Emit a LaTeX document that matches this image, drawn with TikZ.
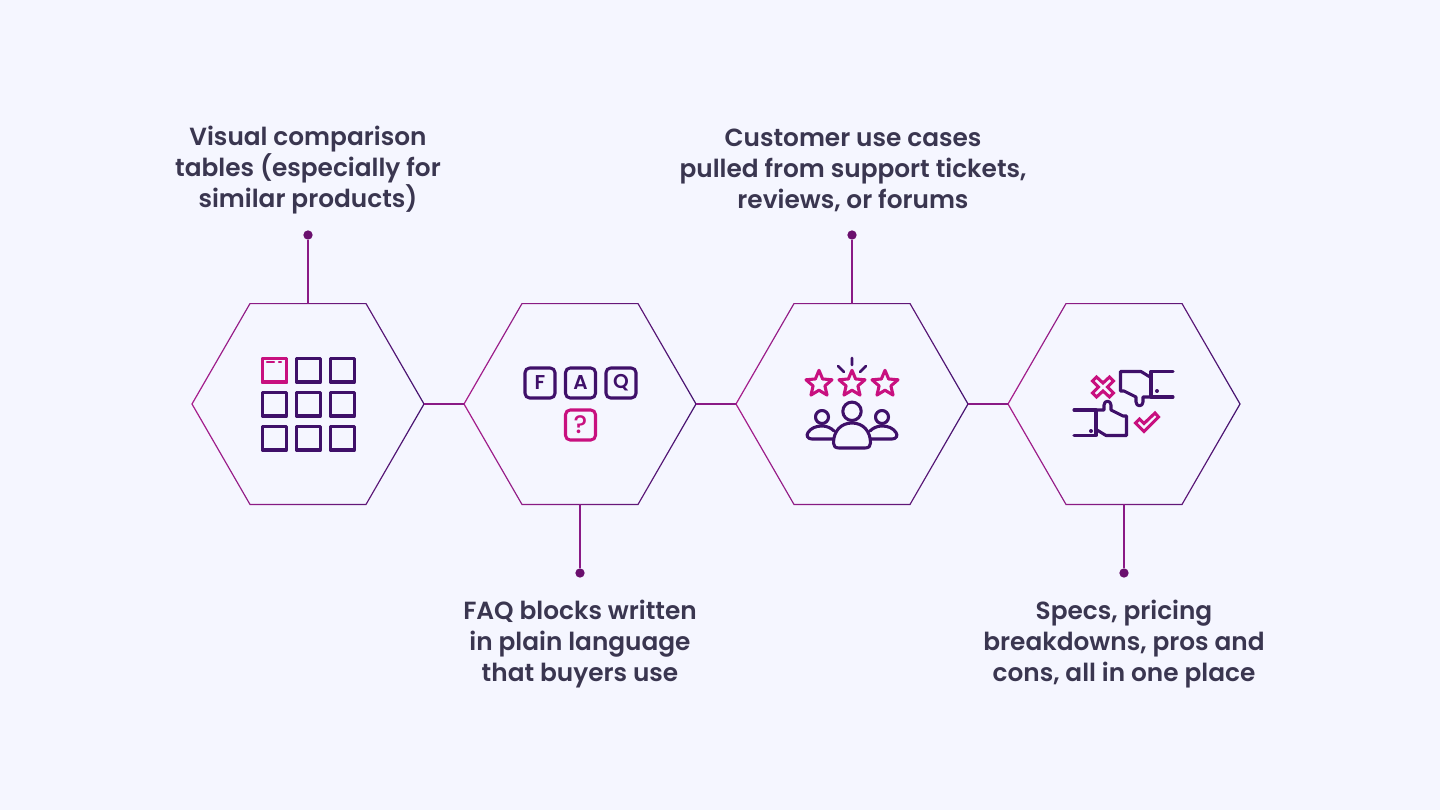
\documentclass[tikz,border=0pt]{standalone}
\usepackage{fontspec}
\newfontfamily\popfont{Poppins SemiBold}
\newfontfamily\popmed{Poppins Medium}
\usetikzlibrary{shapes.geometric}
\definecolor{pagebg}{HTML}{F5F6FF}
\definecolor{inkdark}{HTML}{3A3650}
\definecolor{plum}{HTML}{3F1069}
\definecolor{rose}{HTML}{C8107F}
\definecolor{hexleft}{HTML}{A81E8C}
\definecolor{hexright}{HTML}{451470}
\definecolor{hexline}{HTML}{8A1A86}
\definecolor{dotfill}{HTML}{6A0F6E}
\tikzset{
  hexcell/.style={regular polygon,regular polygon sides=6,
    minimum size=174pt,inner sep=0pt,outer sep=0pt},
  stem/.style={draw=hexline,line width=0.85pt},
  pinmark/.style={circle,fill=dotfill,minimum size=7pt,inner sep=0pt},
  capt/.style={text=inkdark,align=center,font=\popfont\fontsize{18.6}{23.4}\selectfont},
  plumline/.style={draw=plum,line width=2.3pt,line join=round,line cap=round},
  roseline/.style={draw=rose,line width=2.3pt,line join=round,line cap=round},
  keycap/.style={rounded corners=3.5pt,minimum width=22.5pt,minimum height=22.5pt,inner sep=0pt,
    font=\popfont\fontsize{15}{15}\selectfont},
  rating/.style={star,star points=5,star point ratio=2.2,minimum size=20.5pt,inner sep=0pt,roseline}
}
\begin{document}
\begin{tikzpicture}[x=0.75pt,y=-0.75pt]
  \fill[pagebg] (0,0) rectangle (1440,810);
  \useasboundingbox (0,0) rectangle (1440,810);
  % hexagons
  \foreach \n/\x in {1/308,2/580,3/852,4/1124} {
    \node[hexcell] (hex\n) at (\x,404) {};
    \shade[left color=hexleft,right color=hexright,even odd rule]
      (\x-116.7,404) -- (\x-58.35,303) -- (\x+58.35,303) -- (\x+116.7,404) -- (\x+58.35,505) -- (\x-58.35,505) -- cycle
      (\x-115.3,404) -- (\x-57.65,304.1) -- (\x+57.65,304.1) -- (\x+115.3,404) -- (\x+57.65,503.9) -- (\x-57.65,503.9) -- cycle;
  }
  \foreach \a/\b in {1/2,2/3,3/4}
    \draw[stem] (hex\a.east) -- (hex\b.west);
  % pins
  \node[pinmark] (pin1) at (308,235) {};
  \node[pinmark] (pin2) at (580,573) {};
  \node[pinmark] (pin3) at (852,235) {};
  \node[pinmark] (pin4) at (1124,573) {};
  \draw[stem] (pin1) -- (hex1.north);
  \draw[stem] (pin2) -- (hex2.south);
  \draw[stem] (pin3) -- (hex3.north);
  \draw[stem] (pin4) -- (hex4.south);
  % captions
  \node[capt] (cap1) at (308,170.3) {Visual comparison\\tables (especially for\\similar products)};
  \node[capt] (cap2) at (580,644) {FAQ blocks written\\in plain language\\that buyers use};
  \node[capt] (cap3) at (853,170.3) {Customer use cases\\pulled from support tickets,\\reviews, or forums};
  \node[capt] (cap4) at (1124,644) {Specs, pricing\\breakdowns, pros and\\cons, all in one place};
  % table icon
  \foreach \x in {262.5,296.5,330.5}
    \foreach \y in {358.5,392.5,426.5}
      \draw[plumline] (\x,\y) rectangle ++(24,23.5);
  \draw[roseline] (262.5,358.5) rectangle ++(24,23.5);
  \draw[roseline,line width=1.6pt] (267,362) -- (274,362) (279,362) -- (281,362);
  % faq icon
  \node[keycap,plumline,text=plum] (keyf) at (540,383) {F};
  \node[keycap,plumline,text=plum] (keya) at (580.5,383) {A};
  \node[keycap,plumline,text=plum] (keyq) at (621,383) {Q};
  \node[keycap,roseline,text=rose,font=\popmed\fontsize{19}{19}\selectfont] (keyh) at (580.5,425) {?};
  % stars and people
  \foreach \n/\x in {1/819,2/852,3/885}
    \node[rating] (star\n) at (\x,384) {};
  \draw[plumline,line width=1.9pt] (852,358) -- (852,365) (838,366) -- (844,372) (866,366) -- (860,372);
  \draw[plumline] (852,411.3) circle (9.2);
  \draw[plumline] (822,417) circle (6.5) (882,417) circle (6.5);
  \draw[plumline] (839,448) -- (865,448) .. controls (869,448) and (870.5,446) .. (870.5,443)
    .. controls (870.5,431) and (863,423) .. (852,423) .. controls (841,423) and (833.5,431) .. (833.5,443)
    .. controls (833.5,446) and (835,448) .. (839,448) -- cycle;
  \draw[plumline] (833,439) -- (812,439) .. controls (807.5,439) and (806,435.5) .. (808,432.5)
    .. controls (811,428) and (816,426) .. (822,426) .. controls (827,426) and (831,428) .. (834,431);
  \draw[plumline] (871,439) -- (892,439) .. controls (896.5,439) and (898,435.5) .. (896,432.5)
    .. controls (893,428) and (888,426) .. (882,426) .. controls (877,426) and (873,428) .. (870,431);
  % thumbs icon
  \foreach \r in {0,180} {
    \begin{scope}[rotate around={\r:(1123.5,403.5)}]
      \draw[plumline] (1173,371.5) -- (1151,371.5) -- (1151,397) (1173,397) -- (1151,397);
      \draw[plumline] (1150,377) -- (1141,371.5) -- (1120.5,371.5) -- (1120.5,391) -- (1124,391)
        -- (1136,397) -- (1136,402) .. controls (1136,407) and (1143,407) .. (1143,402) -- (1143,397) -- (1151,397);
    \end{scope}
  }
  \fill[plum] (1157,391) circle (2) (1091,431) circle (2);
  \draw[roseline,line join=miter] (1096.5,377) -- (1103,383) -- (1109.5,377) -- (1113.5,381) -- (1107.5,387)
    -- (1113.5,393) -- (1109.5,397) -- (1103,391) -- (1096.5,397) -- (1092.5,393) -- (1098.5,387) -- (1092.5,381) -- cycle;
  \draw[roseline,line join=miter] (1135.5,423) -- (1139.5,419) -- (1144,423.5) -- (1155,413) -- (1158.5,417) -- (1144,431.5) -- cycle;
\end{tikzpicture}
\end{document}
